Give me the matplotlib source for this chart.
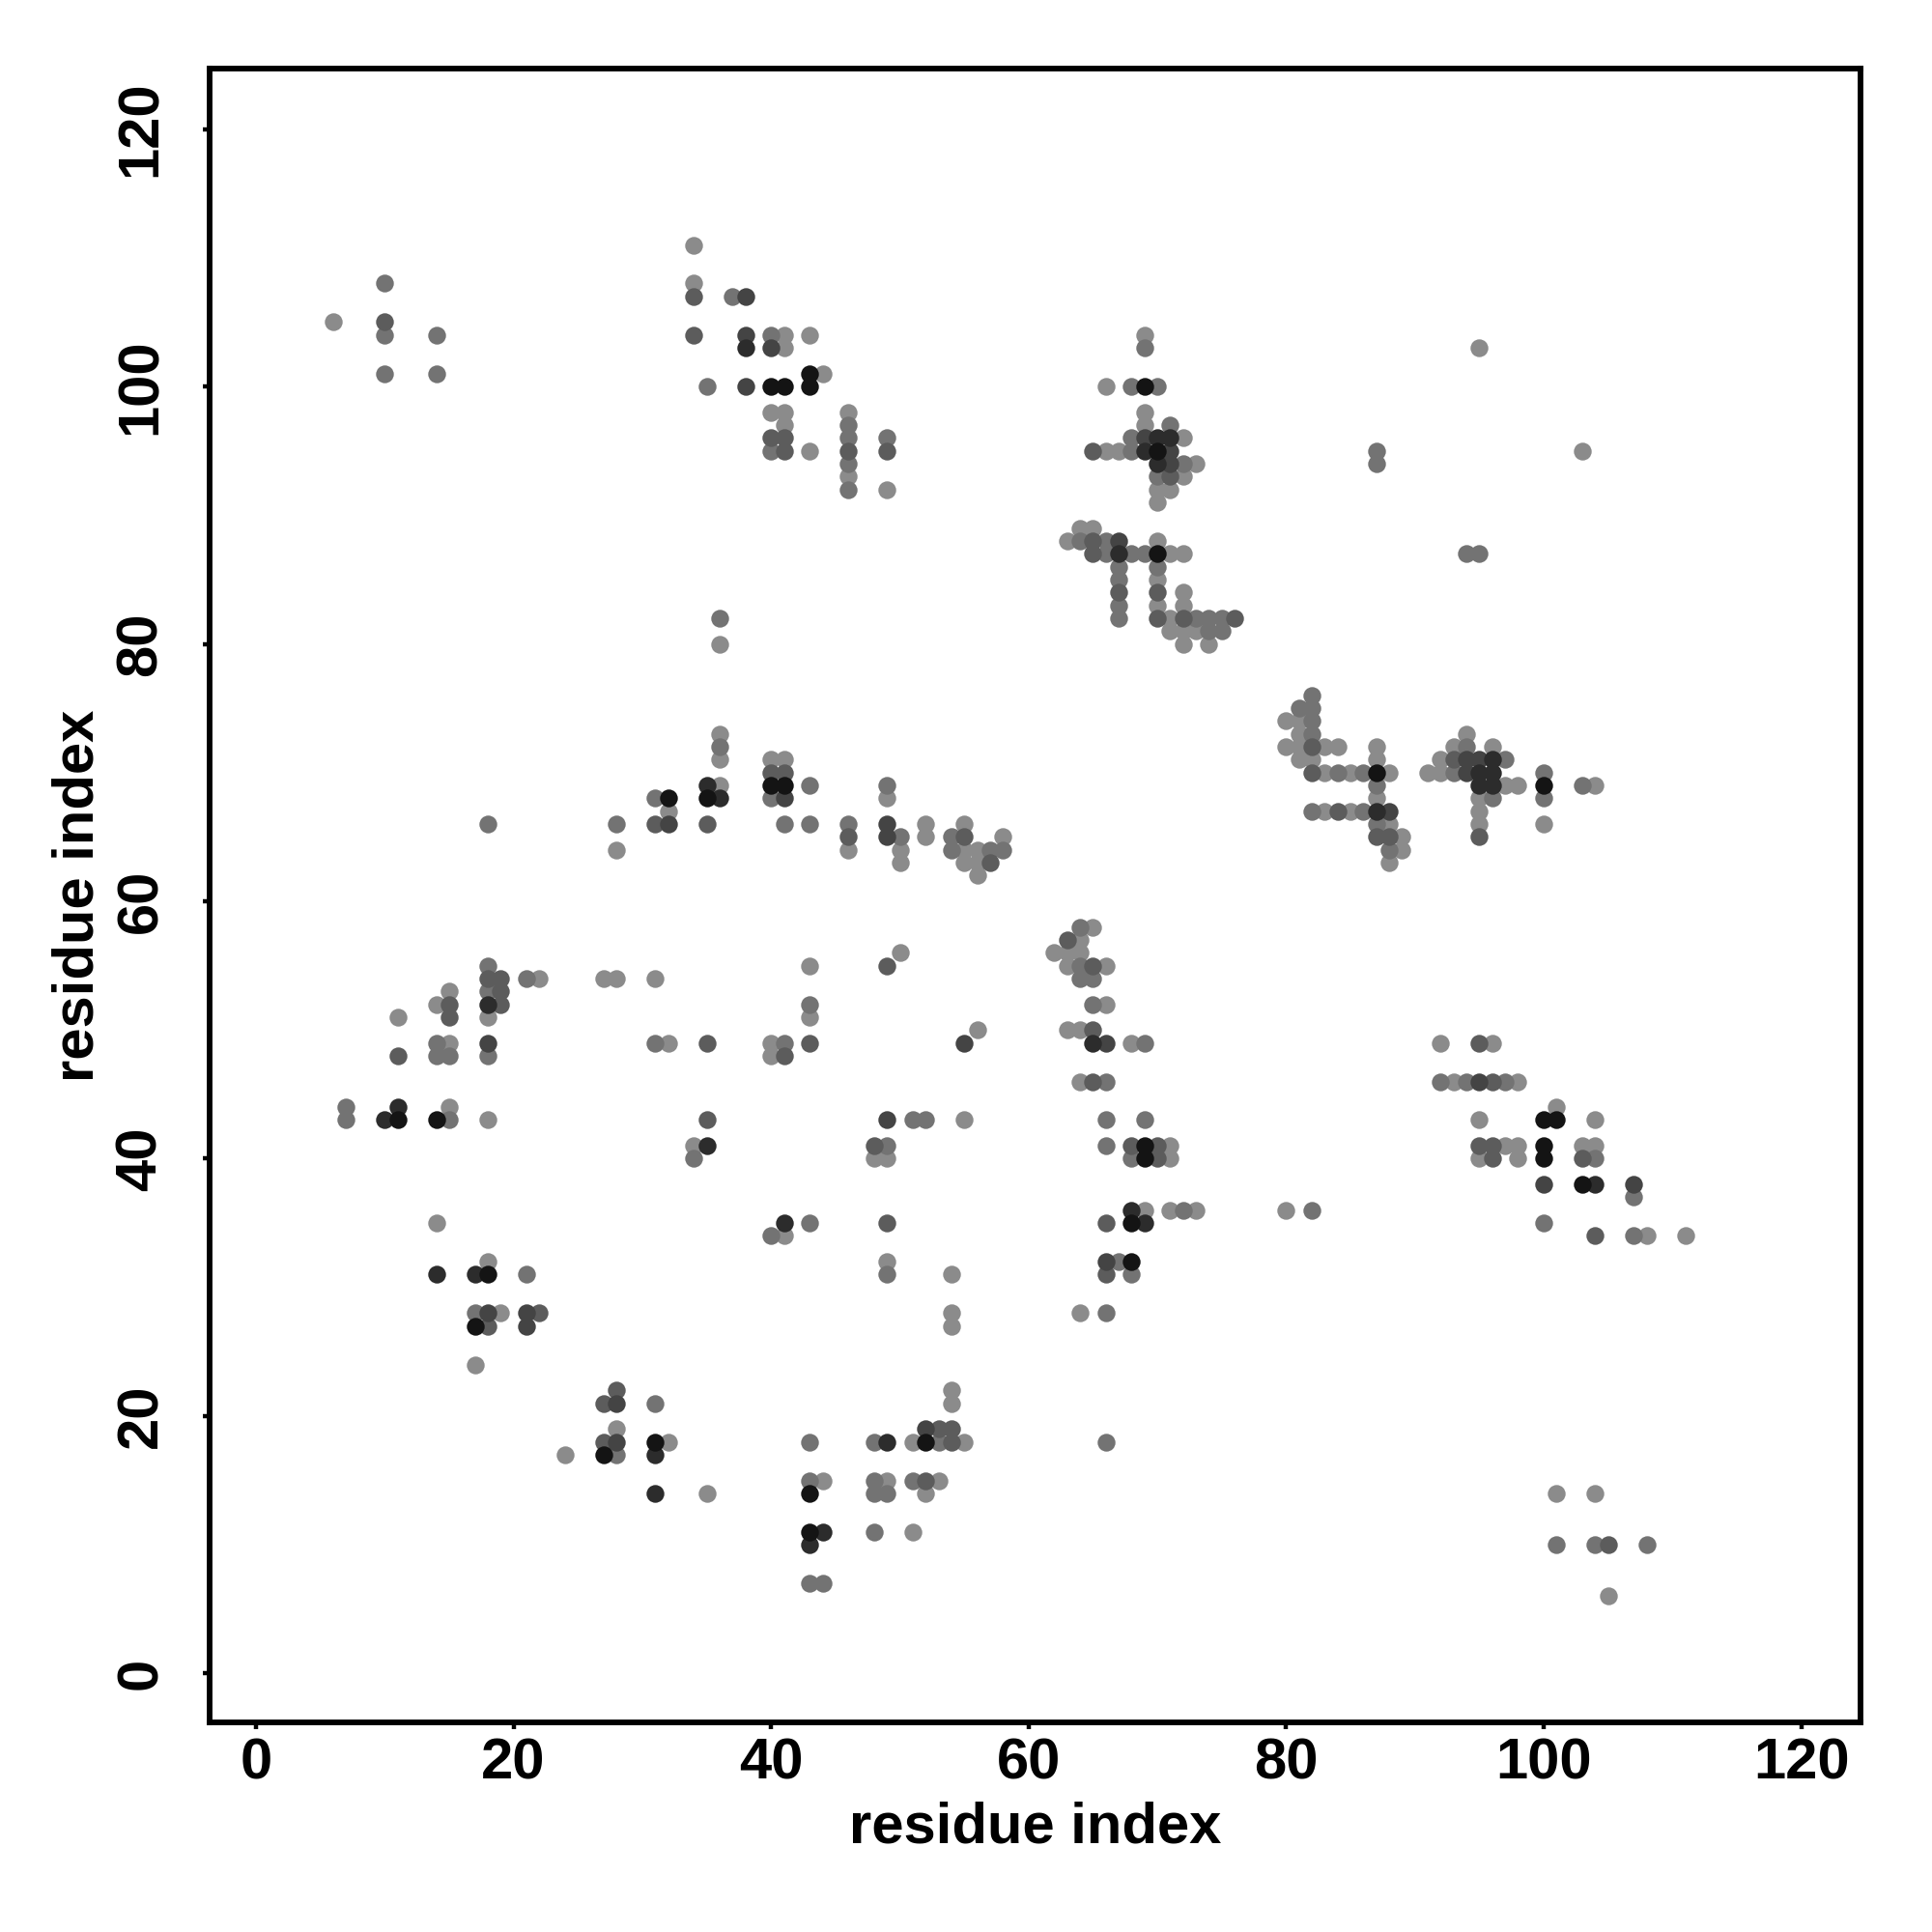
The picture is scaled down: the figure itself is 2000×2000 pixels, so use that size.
import numpy as np
import matplotlib
matplotlib.use("Agg")
import matplotlib.pyplot as plt

plt.rcParams['font.family'] = ['Liberation Sans', 'DejaVu Sans']
plt.rcParams['font.weight'] = 'bold'

# predicted contacts (residue i, residue j), grouped by confidence level
# level 0 = weakest (light grey) ... level 5 = strongest (near black)
level0 = [(6,105),(34,111),(34,108),(41,104),(41,103),(40,98),(41,98),(41,97),(36,80),
          (43,104),(44,101),(43,95),(46,98),(46,93),(49,92),(69,104),(66,100),(69,98),(69,97),
          (72,96),(66,95),(67,95),(73,94),(72,93),(70,92),(71,92),(70,91),(64,89),(65,89),(63,88),
          (71,87),(72,87),(70,88),(70,85),(70,83),(72,84),(72,83),(71,82),(71,81),(72,81),(72,80),
          (73,81),(74,80),(95,103),(103,95),
          (36,73),(36,71),(36,69),(32,67),(28,64),(40,71),(18,51),(22,54),(27,54),(28,54),(31,54),
          (15,53),(14,52),(11,51),(15,49),(32,49),(40,49),(40,48),(15,44),(18,43),(34,41),
          (41,71),(49,68),(46,64),(50,64),(50,63),(52,66),(52,65),(55,66),(55,64),(56,64),(58,65),
          (55,63),(56,63),(56,62),(65,58),(64,57),(62,56),(63,56),(64,56),(63,55),(66,55),(66,52),
          (63,50),(64,50),(68,49),(64,46),(71,41),(43,55),(43,51),(50,56),(56,50),(55,43),(48,40),(49,40),
          (80,74),(81,74),(81,73),(80,72),(81,72),(83,72),(84,72),(81,71),(82,71),(83,70),(85,70),
          (88,70),(87,72),(87,71),(87,68),(83,67),(85,67),(88,66),(89,65),(89,64),(88,63),(94,73),
          (93,72),(96,72),(92,71),(91,70),(92,70),(97,69),(98,69),(95,68),(95,67),(95,66),(100,66),
          (104,69),(92,49),(96,49),(93,46),(98,46),(101,44),(95,43),(104,43),(97,41),(98,41),(103,41),
          (104,41),(95,40),(98,40),
          (41,34),(14,35),(18,32),(19,28),(17,24),(28,19),(24,17),(32,18),(35,14),
          (49,32),(54,31),(54,28),(54,27),(54,22),(54,21),(51,18),(55,18),(44,15),(49,15),(53,15),
          (52,14),(51,11),(71,40),(69,36),(71,36),(73,36),(64,28),
          (80,36),(108,34),(111,34),(101,14),(104,14),(105,6)]

level1 = [(10,108),(10,104),(14,104),(10,101),(14,101),(37,107),(40,104),(35,100),(40,95),(36,82),
          (46,97),(46,96),(46,94),(46,92),(49,96),(69,103),(68,100),(70,100),(71,97),(68,96),(68,95),
          (72,94),(70,93),(64,88),(66,88),(66,87),(68,87),(69,87),(67,86),(67,85),(67,83),(67,82),
          (70,86),(73,82),(74,82),(75,82),(74,81),(75,81),(87,95),(87,94),(94,87),(95,87),
          (36,72),(31,68),(28,66),(18,66),(40,68),(18,55),(18,53),(21,54),(14,49),(14,48),(15,48),
          (18,48),(31,49),(7,44),(7,43),(15,43),(34,40),
          (43,69),(49,69),(41,66),(43,66),(46,66),(50,65),(54,65),(54,64),(57,64),(58,64),(64,58),
          (64,55),(64,54),(65,54),(65,52),(69,49),(66,46),(66,43),(69,43),(66,41),(43,52),(41,49),
          (51,43),(52,43),(49,41),
          (82,76),(81,75),(82,75),(82,74),(82,73),(84,70),(86,70),(87,69),(82,67),(86,67),(87,66),
          (88,64),(94,72),(97,71),(93,70),(96,68),(100,70),(100,68),(103,69),(92,46),(94,46),(97,46),
          (104,40),
          (40,34),(43,35),(21,31),(17,28),(31,21),(28,17),
          (49,31),(43,18),(48,18),(53,18),(66,18),(43,15),(48,15),(48,14),(49,14),(51,15),(48,11),
          (43,7),(44,7),(68,40),(72,36),(67,32),(68,31),(66,28),
          (82,36),(107,37),(100,35),(107,34),(101,10),(104,10),(108,10)]

level2 = [(10,105),(34,107),(34,104),(40,96),(41,96),(41,95),(46,95),(49,95),(71,93),(65,95),
          (65,88),(65,87),(67,84),(70,84),(70,82),(72,82),(76,82),
          (31,66),(35,66),(40,70),(18,54),(19,54),(19,53),(19,52),(15,52),(15,51),(11,48),(35,49),
          (35,43),
          (41,70),(46,65),(55,65),(57,63),(63,57),(65,55),(65,50),(65,46),(68,41),(70,41),(43,49),
          (41,48),(49,55),(48,41),
          (82,72),(82,70),(84,67),(87,65),(88,65),(93,71),(95,65),(95,49),(96,46),(95,41),(96,41),
          (96,40),(103,40),
          (18,27),(22,28),(28,22),(27,21),(27,18),
          (49,35),(53,19),(54,19),(54,18),(52,15),(70,40),(66,35),(66,31),
          (104,34),(105,10)]

level3 = [(38,107),(38,104),(40,103),(38,100),(69,96),(71,95),(71,94),(67,88),
          (32,66),(18,49),
          (41,68),(49,66),(49,65),(66,49),(55,49),(49,43),
          (88,67),(94,71),(95,71),(94,70),(95,46),
          (18,28),(21,28),(21,27),(28,21),(28,18),
          (52,19),(66,32),
          (100,38),(107,38)]

level4 = [(38,103),(70,96),(71,96),(69,95),(70,94),(67,87),
          (35,69),(36,68),(18,52),(11,44),(10,43),(35,41),
          (65,49),
          (87,67),(96,71),(95,70),(96,70),(95,69),(96,69),
          (41,35),(14,31),(17,31),(31,17),(31,14),
          (49,18),(44,11),(43,10),(68,36),(69,35),
          (104,38)]

level5 = [(40,100),(41,100),(43,101),(43,100),(69,100),(70,95),(70,87),
          (35,68),(32,68),(40,69),(11,43),(14,43),
          (41,69),(69,41),
          (87,70),(100,69),(100,43),(101,43),(100,41),(100,40),
          (18,31),(17,27),(27,17),(31,18),
          (52,18),(43,14),(43,11),(69,40),(68,35),(68,32),
          (103,38)]

levels = [level0, level1, level2, level3, level4, level5]
ticks = [0, 20, 40, 60, 80, 100, 120]

fig = plt.figure(figsize=(10, 10), dpi=200)
ax = fig.add_axes([0.1085, 0.1085, 0.8545, 0.856])

for k, pts in enumerate(levels):
    arr = np.array(pts)
    g = 0.545 - 0.093 * k
    ax.scatter(arr[:, 0], arr[:, 1], s=44, c=[(g, g, g)], linewidths=0, zorder=2 + k)

ax.set_xlim(-3.6, 124.6)
ax.set_ylim(-3.8, 124.7)
ax.set_xticks(ticks)
ax.set_yticks(ticks)
for sp in ax.spines.values():
    sp.set_linewidth(2.1)

ax.tick_params(direction='out', length=2.5, width=1.6, labelsize=21.5)
ax.tick_params(axis='x', pad=3)
ax.tick_params(axis='y', pad=13, labelrotation=90)
for lbl in ax.get_yticklabels():
    lbl.set_va('center')

fig.text(0.5357, 0.054, 'residue index', ha='center', va='center', fontsize=21.5, fontweight='bold')
fig.text(0.0405, 0.5365, 'residue index', ha='center', va='center', fontsize=21.5,
         fontweight='bold', rotation=90)

fig.savefig('out.png', dpi=200, facecolor='white')
